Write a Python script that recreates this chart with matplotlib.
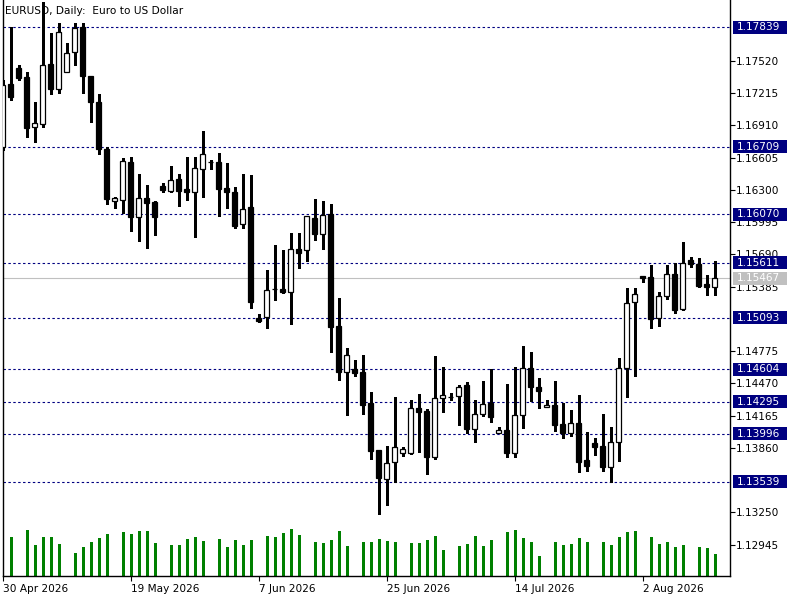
import numpy as np
import matplotlib
matplotlib.use("Agg")
import matplotlib.pyplot as plt
import matplotlib.transforms as mtransforms
from matplotlib.patches import Rectangle

# ── data (EURUSD daily) ───────────────────────────────────────────────────────
opens = [1.16706, 1.17300, 1.17451, 1.17366, 1.16898, 1.16924, 1.17492, 1.17258, 1.17413, 1.17602,
         1.17839, 1.17378, 1.17129, 1.16687, 1.16193, 1.16205, 1.16562, 1.16041, 1.16224, 1.16186,
         1.16337, 1.16293, 1.16404, 1.16309, 1.16284, 1.16501, 1.16567, 1.16565, 1.16317, 1.16279,
         1.15975, 1.16136, 1.15089, 1.15095, 1.15360, 1.15363, 1.15338, 1.15742, 1.15729, 1.16035,
         1.15888, 1.16070, 1.15013, 1.14581, 1.14603, 1.14578, 1.14285, 1.13840, 1.13569, 1.13724,
         1.13809, 1.13815, 1.14234, 1.14209, 1.13777, 1.14329, 1.14344, 1.14348, 1.14452, 1.14036,
         1.14178, 1.14282, 1.13998, 1.14029, 1.13809, 1.14168, 1.14613, 1.14433, 1.14244, 1.14263,
         1.14083, 1.13998, 1.14093, 1.13743, 1.13903, 1.13875, 1.13682, 1.13913, 1.14613, 1.15237,
         1.15483, 1.15474, 1.15086, 1.15294, 1.15508, 1.15177, 1.15635, 1.15602, 1.15410, 1.15385]
highs = [1.17340, 1.17844, 1.17482, 1.17419, 1.17135, 1.18078, 1.17782, 1.17877, 1.17687, 1.17877,
         1.17877, 1.17378, 1.17208, 1.16709, 1.16233, 1.16600, 1.16609, 1.16451, 1.16347, 1.16196,
         1.16363, 1.16527, 1.16451, 1.16615, 1.16615, 1.16858, 1.16588, 1.16653, 1.16555, 1.16328,
         1.16451, 1.16442, 1.15127, 1.15543, 1.15779, 1.15732, 1.15896, 1.15896, 1.16051, 1.16215,
         1.16196, 1.16167, 1.15278, 1.14802, 1.14691, 1.14739, 1.14389, 1.13840, 1.13875, 1.14339,
         1.13868, 1.14310, 1.14370, 1.14228, 1.14726, 1.14622, 1.14376, 1.14455, 1.14483, 1.14310,
         1.14493, 1.14603, 1.14060, 1.14464, 1.14625, 1.14824, 1.14767, 1.14521, 1.14313, 1.14493,
         1.14288, 1.14218, 1.14360, 1.14010, 1.13954, 1.14183, 1.14055, 1.14710, 1.15370, 1.15370,
         1.15483, 1.15590, 1.15332, 1.15590, 1.15606, 1.15805, 1.15663, 1.15654, 1.15496, 1.15625]
lows = [1.16678, 1.17151, 1.17340, 1.16804, 1.16757, 1.16898, 1.17208, 1.17220, 1.17413, 1.17482,
        1.17214, 1.16946, 1.16637, 1.16164, 1.16126, 1.16079, 1.15915, 1.15820, 1.15754, 1.15874,
        1.16284, 1.16284, 1.16148, 1.16205, 1.15858, 1.16236, 1.16494, 1.16058, 1.16125, 1.15943,
        1.15937, 1.15181, 1.15054, 1.14991, 1.15259, 1.15322, 1.15029, 1.15565, 1.15631, 1.15831,
        1.15746, 1.14767, 1.14502, 1.14171, 1.14543, 1.14181, 1.13755, 1.13237, 1.13323, 1.13540,
        1.13786, 1.13805, 1.13824, 1.13616, 1.13752, 1.14202, 1.14313, 1.14079, 1.14004, 1.13913,
        1.14159, 1.14108, 1.13998, 1.13771, 1.13777, 1.14051, 1.14301, 1.14240, 1.14244, 1.14023,
        1.13954, 1.13975, 1.13635, 1.13644, 1.13797, 1.13644, 1.13540, 1.13739, 1.14339, 1.14543,
        1.15426, 1.14997, 1.15016, 1.15266, 1.15139, 1.15164, 1.15574, 1.15385, 1.15309, 1.15309]
closes = [1.17293, 1.17177, 1.17362, 1.16889, 1.16931, 1.17482, 1.17258, 1.17791, 1.17593, 1.17829,
          1.17381, 1.17129, 1.16687, 1.16212, 1.16221, 1.16574, 1.16047, 1.16221, 1.16180, 1.16047,
          1.16300, 1.16394, 1.16293, 1.16284, 1.16505, 1.16640, 1.16568, 1.16312, 1.16276, 1.15959,
          1.16117, 1.15243, 1.15063, 1.15351, 1.15363, 1.15338, 1.15742, 1.15707, 1.16051, 1.15888,
          1.16063, 1.15006, 1.14581, 1.14739, 1.14571, 1.14269, 1.13833, 1.13578, 1.13714, 1.13866,
          1.13850, 1.14234, 1.14202, 1.13777, 1.14329, 1.14363, 1.14345, 1.14439, 1.14036, 1.14178,
          1.14272, 1.14155, 1.14026, 1.13809, 1.14168, 1.14613, 1.14433, 1.14401, 1.14263, 1.14079,
          1.13998, 1.14093, 1.13729, 1.13692, 1.13866, 1.13682, 1.13913, 1.14613, 1.15228, 1.15313,
          1.15470, 1.15076, 1.15294, 1.15502, 1.15164, 1.15606, 1.15597, 1.15394, 1.15385, 1.15467]
volumes = [0, 39, 0, 46, 31, 39, 39, 32, 0, 23, 29, 34, 38, 42, 0, 44, 42, 45, 45, 33,
           0, 31, 31, 37, 39, 35, 0, 37, 29, 36, 31, 36, 0, 40, 39, 43, 47, 41, 0, 34,
           33, 36, 45, 30, 0, 34, 34, 37, 35, 34, 0, 33, 33, 36, 40, 26, 0, 30, 32, 40,
           30, 36, 0, 44, 46, 38, 34, 20, 0, 34, 31, 32, 38, 34, 0, 34, 31, 39, 44, 45,
           0, 39, 32, 34, 29, 31, 0, 29, 28, 22]

date_ticks = [0, 16, 32, 48, 64, 80]
date_labels = ["30 Apr 2026", "19 May 2026", "7 Jun 2026", "25 Jun 2026", "14 Jul 2026", "2 Aug 2026"]

price_ticks = [1.17520, 1.17215, 1.16910, 1.16605, 1.16300, 1.15995, 1.15690, 1.15385,
               1.14775, 1.14470, 1.14165, 1.13860, 1.13250, 1.12945]
levels = [1.17839, 1.16709, 1.16070, 1.15611, 1.15093, 1.14604, 1.14295, 1.13996, 1.13539]
last_price = 1.15467

# ── figure ────────────────────────────────────────────────────────────────────
plt.rcParams["font.family"] = ["DejaVu Sans"]
FS = 7.6
NAVY = "#000080"

fig = plt.figure(figsize=(8, 6), dpi=100)
ax = fig.add_axes([2.7 / 800, 24 / 600, 727.3 / 800, 576 / 600])
ax.set_xlim(0, 90.91)
ax.set_ylim(1.12648, 1.18097)

o = np.array(opens); h = np.array(highs); l = np.array(lows); c = np.array(closes)
idx = np.arange(len(o))
up = c >= o

# volumes share the bottom of the price window
axv = ax.twinx()
axv.set_ylim(0, 576)
axv.vlines(idx, 0, volumes, color="#008000", lw=0.75, antialiased=False)
axv.axis("off")
ax.set_zorder(axv.get_zorder() + 1)
ax.patch.set_visible(False)

# level lines and last price
for lv in levels:
    ax.axhline(lv, color=NAVY, lw=0.8, ls=(0, (2.2, 2.2)), zorder=1)
ax.axhline(last_price, color="#C0C0C0", lw=0.8, zorder=1)

# candles
ax.vlines(idx, l, h, color="black", lw=0.9, zorder=3, antialiased=False)
body_lo = np.minimum(o, c)
body_h = np.maximum(np.abs(c - o), 0.000001)
ax.bar(idx, body_h, bottom=body_lo, width=0.62,
       color=np.where(up, "white", "black"), edgecolor="black",
       linewidth=0.9, zorder=4)

# axes styling
ax.spines["top"].set_visible(False)
for side in ["left", "right", "bottom"]:
    ax.spines[side].set_linewidth(1.0)

ax.yaxis.tick_right()
ax.set_yticks(price_ticks)
ax.set_yticklabels([f"{p:.5f}" for p in price_ticks], fontsize=FS)
ax.tick_params(axis="y", direction="out", length=3.5, width=0.8, pad=1)

ax.set_xticks(date_ticks)
ax.set_xticklabels(date_labels, fontsize=FS, ha="left")
ax.tick_params(axis="x", direction="out", length=3.5, width=0.8, pad=2)

# highlighted price labels on the right axis
trans = mtransforms.blended_transform_factory(ax.transAxes, ax.transData)
box_h = 13 * 0.0000946
for lv, col in [(lv, NAVY) for lv in levels] + [(last_price, "#C0C0C0")]:
    ax.add_patch(Rectangle((1.0042, lv - box_h / 2), 0.0742, box_h, transform=trans,
                           facecolor=col, edgecolor="none", clip_on=False, zorder=5))
    ax.text(1.0095, lv, f"{lv:.5f}", transform=trans, fontsize=FS, color="white",
            va="center", ha="left", zorder=6, clip_on=False)

fig.text(5 / 800, 1 - 11 / 600, "EURUSD, Daily:  Euro to US Dollar", fontsize=FS,
         va="center", ha="left")

fig.savefig("out.png", dpi=100)
